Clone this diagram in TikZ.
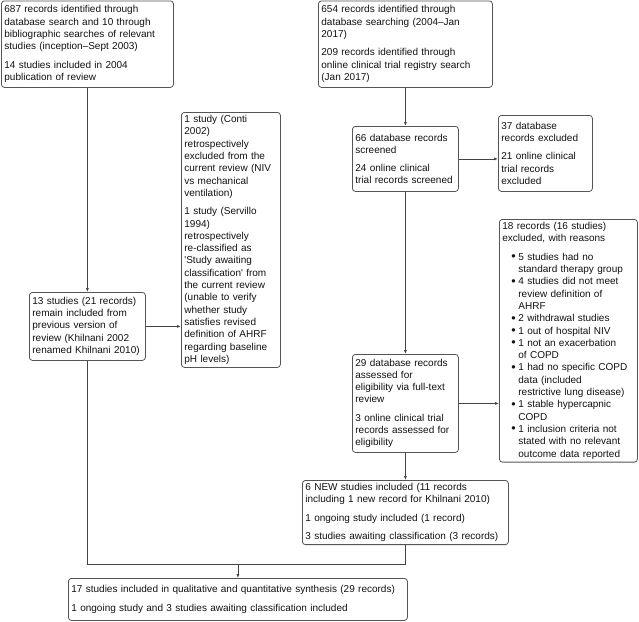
\documentclass[tikz,border=0pt]{standalone}
\usepackage{fontspec}
\setmainfont{Liberation Sans}
\usepackage{xcolor}
\usepackage{tikz}
\usetikzlibrary{positioning, calc, arrows.meta}

\definecolor{boxgray}{HTML}{555555}
\definecolor{linegray}{HTML}{444444}
\definecolor{txtgray}{HTML}{111111}

\newcommand{\itm}[1]{\hspace*{9pt}\makebox[7pt][l]{\raisebox{-0.3pt}{\scalebox{1.25}{\textbullet}}}#1}
\newcommand{\cnt}[1]{\hspace*{16pt}#1}

\begin{document}
\begin{tikzpicture}[x=1pt,y=-1pt,>={Latex[length=4pt,width=3pt]},
    box/.style={draw=boxgray, line width=0.8pt, rounded corners=3pt, anchor=north west,
        inner xsep=3pt, inner ysep=3pt, align=left, text=txtgray,
        font=\fontsize{10}{12.3}\selectfont},
    link/.style={draw=linegray, line width=0.7pt}]

    \useasboundingbox (0,0) rectangle (639,621);

    % Search boxes
    \node[box, text width=166pt, minimum height=86.5pt] (oldsearch) at (1,0.5)
        {687 records identified through\\
         database search and 10 through\\
         bibliographic searches of relevant\\
         studies (inception--Sept 2003)\\[6pt]
         14 studies included in 2004\\
         publication of review};
    \node[box, text width=168pt, minimum height=86.5pt] (newsearch) at (318,0.5)
        {654 records identified through\\
         database searching (2004--Jan\\
         2017)\\[6pt]
         209 records identified through\\
         online clinical trial registry search\\
         (Jan 2017)};

    % Left branch
    \node[box, text width=110pt, minimum height=68pt] (previous) at (29,292)
        {13 studies (21 records)\\
         remain included from\\
         previous version of\\
         review (Khilnani 2002\\
         renamed Khilnani 2010)};
    \node[box, text width=93pt, minimum height=247pt] (retro) at (181,112)
        {1 study (Conti\\
         2002)\\
         retrospectively\\
         excluded from the\\
         current review (NIV\\
         vs mechanical\\
         ventilation)\\[6pt]
         1 study (Servillo\\
         1994)\\
         retrospectively\\
         re-classified as\\
         \textquotesingle Study awaiting\\
         classification\textquotesingle{} from\\
         the current review\\
         (unable to verify\\
         whether study\\
         satisfies revised\\
         definition of AHRF\\
         regarding baseline\\
         pH levels)};

    % Right branch
    \node[box, text width=100pt, minimum height=65pt] (screened) at (352,126)
        {66 database records\\
         screened\\[6pt]
         24 online clinical\\
         trial records screened};
    \node[box, text width=88pt, minimum height=76pt] (excluded) at (498,115)
        {37 database\\
         records excluded\\[6pt]
         21 online clinical\\
         trial records\\
         excluded};
    \node[box, text width=100pt, minimum height=98pt] (fulltext) at (352,354)
        {29 database records\\
         assessed for\\
         eligibility via full-text\\
         review\\[6pt]
         3 online clinical trial\\
         records assessed for\\
         eligibility};
    \node[box, text width=132pt, minimum height=235pt] (reasons) at (499,219)
        {18 records (16 studies)\\
         excluded, with reasons\\[6pt]
         \itm{5 studies had no}\\
         \cnt{standard therapy group}\\
         \itm{4 studies did not meet}\\
         \cnt{review definition of}\\
         \cnt{AHRF}\\
         \itm{2 withdrawal studies}\\
         \itm{1 out of hospital NIV}\\
         \itm{1 not an exacerbation}\\
         \cnt{of COPD}\\
         \itm{1 had no specific COPD}\\
         \cnt{data (included}\\
         \cnt{restrictive lung disease)}\\
         \itm{1 stable hypercapnic}\\
         \cnt{COPD}\\
         \itm{1 inclusion criteria not}\\
         \cnt{stated with no relevant}\\
         \cnt{outcome data reported}};
    \node[box, text width=200pt, minimum height=62pt] (newstudies) at (302,480)
        {6 NEW studies included (11 records\\
         including 1 new record for Khilnani 2010)\\[6pt]
         1 ongoing study included (1 record)\\[6pt]
         3 studies awaiting classification (3 records)};

    % Final box
    \node[box, text width=333pt, minimum height=42pt] (synthesis) at (68,578)
        {17 studies included in qualitative and quantitative synthesis (29 records)\\[6pt]
         1 ongoing study and 3 studies awaiting classification included};

    % Arrows
    \coordinate (join) at ($(synthesis.north)+(0,-14)$);
    \draw[link,->] (oldsearch.south) -- (previous.north);
    \draw[link,->] (previous.east) -- (previous.east -| retro.west);
    \draw[link,->] (newsearch.south) -- (screened.north);
    \draw[link,->] (screened.east) -- (screened.east -| excluded.west);
    \draw[link,->] (screened.south) -- (fulltext.north);
    \draw[link,->] (fulltext.east) -- (fulltext.east -| reasons.west);
    \draw[link,->] (fulltext.south) -- (newstudies.north);
    \draw[link] (previous.south) |- (newstudies.south |- join) -- (newstudies.south);
    \draw[link,->] (join) -- (synthesis.north);
\end{tikzpicture}
\end{document}
